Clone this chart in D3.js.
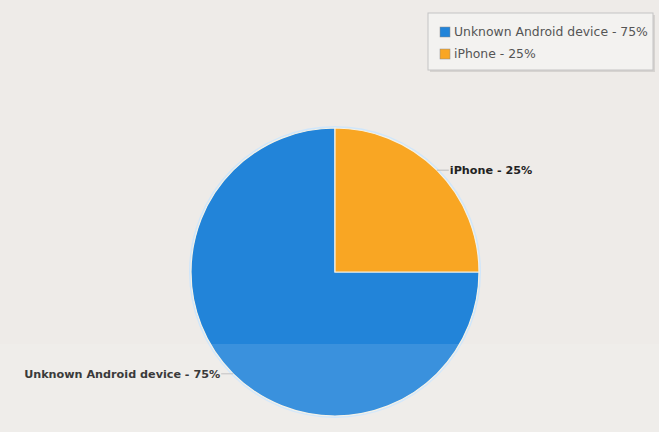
<!DOCTYPE html>
<html><head><meta charset="utf-8">
<script src="https://cdn.jsdelivr.net/npm/d3@7/dist/d3.min.js"></script>
<style>html,body{margin:0;padding:0;background:#eeebe8;}svg{display:block;}</style>
</head><body>
<svg id="c" width="659" height="432"></svg>
<script>
const categories = ["Unknown Android device", "iPhone"];
const values = [75, 25];
const colors = ["#2284d9", "#f9a623"];
const labels = categories.map((c, i) => c + " - " + values[i] + "%");

const W = 659, H = 432;
const svg = d3.select("#c");
svg.append("rect").attr("width", W).attr("height", H).attr("fill", "#eeebe8");

const cx = 335, cy = 272, R = 144;
const data = categories.map((c, i) => ({name: c, value: values[i], color: colors[i], label: labels[i]}));
const pie = d3.pie().value(d => d.value).sort(null).startAngle(Math.PI / 2).endAngle(Math.PI * 2.5);
const arcs = pie(data);
const arc = d3.arc().innerRadius(0).outerRadius(R);
const g = svg.append("g").attr("transform", `translate(${cx},${cy})`);

// outer glow
g.append("circle").attr("r", R + 1).attr("fill", "none").attr("stroke", "#cfe6fb").attr("stroke-width", 2);
g.selectAll("path.slice").data(arcs).join("path")
  .attr("class", "slice")
  .attr("d", arc)
  .attr("fill", d => d.data.color)
  .attr("stroke", "#f4f1e6")
  .attr("stroke-width", 1.2);

// labels
arcs.forEach(d => {
  const mid = (d.startAngle + d.endAngle) / 2;
  const px = Math.sin(mid) * R, py = -Math.cos(mid) * R;
  const right = px > 0;
  const lx = px + (right ? 12 : -12);
  g.append("line").attr("x1", px).attr("y1", py).attr("x2", lx).attr("y2", py)
    .attr("stroke", "#bbbbbb").attr("stroke-width", 1);
  g.append("text").attr("x", right ? lx + 1 : lx - 1).attr("y", py)
    .attr("dy", "0.35em")
    .attr("text-anchor", right ? "start" : "end")
    .attr("font-family", "DejaVu Sans, sans-serif")
    .attr("font-weight", "bold").attr("font-size", 11.2)
    .attr("fill", "#222")
    .text(d.data.label);
});

// legend
const lg = svg.append("g").attr("transform", "translate(428,13)");
lg.append("rect").attr("x", 2).attr("y", 2).attr("width", 225).attr("height", 57)
  .attr("fill", "#d6d3d0");
lg.append("rect").attr("width", 225).attr("height", 57)
  .attr("fill", "#f3f2f0").attr("stroke", "#c4c4c4").attr("stroke-width", 1);
data.forEach((d, i) => {
  lg.append("rect").attr("x", 12).attr("y", 14 + i * 22).attr("width", 10).attr("height", 10)
    .attr("fill", d.color).attr("stroke", "#8a8a8a").attr("stroke-width", 0.5);
  lg.append("text").attr("x", 26).attr("y", 19 + i * 22).attr("dy", "0.35em")
    .attr("font-family", "DejaVu Sans, sans-serif").attr("font-size", 12.4)
    .attr("fill", "#555").text(d.label);
});

// light band overlay at bottom
svg.append("rect").attr("x", 0).attr("y", 344).attr("width", W).attr("height", H - 344)
  .attr("fill", "#ffffff").attr("opacity", 0.11);
</script>
</body></html>
